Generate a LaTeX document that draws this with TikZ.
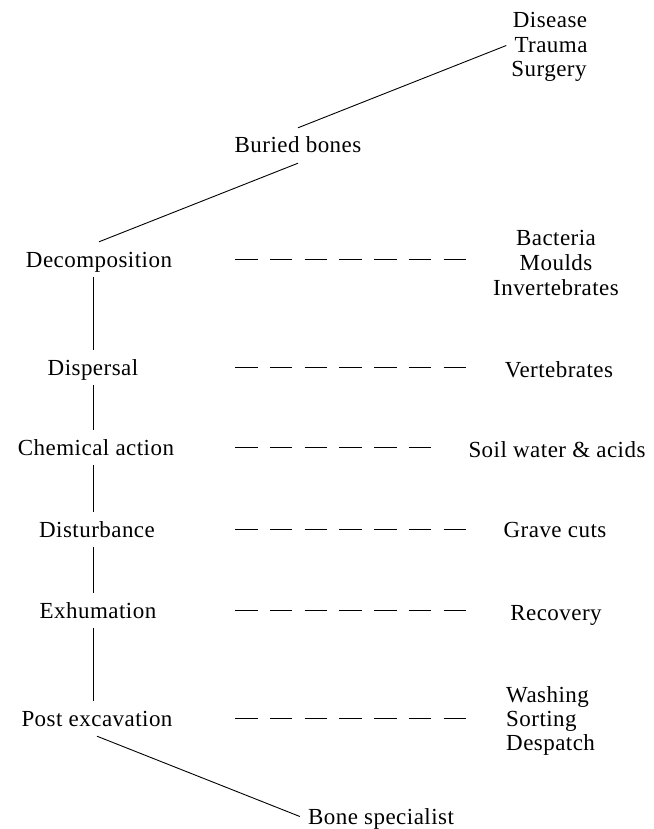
\documentclass[tikz,border=0pt]{standalone}
\usepackage{fontspec}
\setmainfont{Liberation Serif}[LetterSpace=2.0]
\begin{document}
\begin{tikzpicture}[x=1pt,y=-1pt,
  lbl/.style={font=\fontsize{23}{25}\selectfont, text height=15pt, text depth=0pt,
              inner ysep=10pt, inner xsep=8pt, anchor=base},
  link/.style={line width=0.9pt},
  dashline/.style={line width=1.2pt, dash pattern=on 22.5pt off 12.25pt}]
\useasboundingbox (0,0) rectangle (653,829);
\coordinate (spine) at (93,0);
\coordinate (dl) at (235,0);
\coordinate (dr) at (466,0);
\coordinate (drc) at (431,0);

\node[lbl] (dis1) at (550,28) {Disease};
\node[lbl] (tra) at (551,53) {Trauma};
\node[lbl] (sur) at (549,77) {Surgery};
\node[lbl] (bb) at (298,153) {Buried bones};
\node[lbl] (dec) at (99,267) {Decomposition};
\node[lbl] (bac) at (556,245) {Bacteria};
\node[lbl] (mou) at (556,270) {Moulds};
\node[lbl] (inv) at (556,295) {Invertebrates};
\node[lbl] (dsp) at (93,375) {Dispersal};
\node[lbl] (ver) at (559,377) {Vertebrates};
\node[lbl] (che) at (96,455) {Chemical action};
\node[lbl] (soi) at (557,457) {Soil water \& acids};
\node[lbl] (dst) at (97,537) {Disturbance};
\node[lbl] (gra) at (555,537) {Grave cuts};
\node[lbl] (exh) at (98,618) {Exhumation};
\node[lbl] (rec) at (556,620) {Recovery};
\node[lbl] (pos) at (97,726) {Post excavation};
\node[lbl, anchor=base west] (was) at (498,702) {Washing};
\node[lbl, anchor=base west] (sor) at (498,726) {Sorting};
\node[lbl, anchor=base west] (des) at (498,750) {Despatch};
\node[lbl] (bsp) at (381,824) {Bone specialist};

\draw[link] (bb.north) -- (tra.west);
\draw[link] (bb.south) -- (dec.north);
\draw[link] (dec.south -| spine) -- (dsp.north -| spine);
\draw[link] (dsp.south -| spine) -- (che.north -| spine);
\draw[link] (che.south -| spine) -- (dst.north -| spine);
\draw[link] (dst.south -| spine) -- (exh.north -| spine);
\draw[link] (exh.south -| spine) -- (pos.north -| spine);
\draw[link] (pos.south) -- (bsp.west);

\draw[dashline] (dec.center -| dl) -- (dec.center -| dr);
\draw[dashline] (dsp.center -| dl) -- (dsp.center -| dr);
\draw[dashline] (che.center -| dl) -- (che.center -| drc);
\draw[dashline] (dst.center -| dl) -- (dst.center -| dr);
\draw[dashline] (exh.center -| dl) -- (exh.center -| dr);
\draw[dashline] (pos.center -| dl) -- (pos.center -| dr);
\end{tikzpicture}
\end{document}
